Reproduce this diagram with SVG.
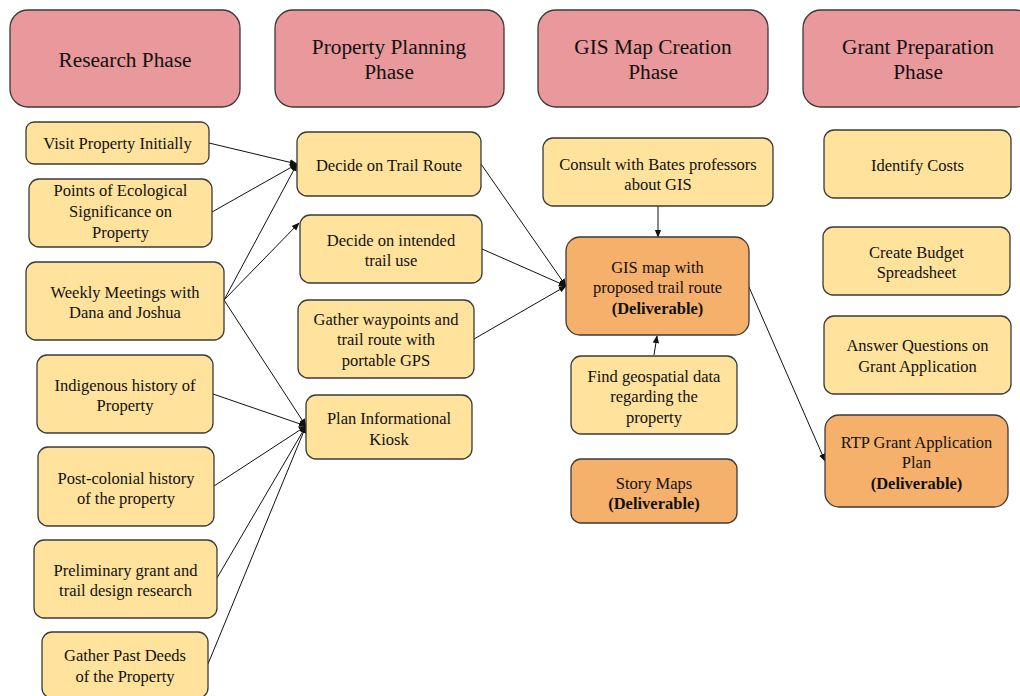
<svg xmlns="http://www.w3.org/2000/svg" width="1020" height="696" viewBox="0 0 1020 696">
<style>
.h{fill:#E9989B;stroke:#3a3a3a;stroke-width:1.3}
.y{fill:#FFE29C;stroke:#3a3a3a;stroke-width:1.3}
.o{fill:#F5B06C;stroke:#3a3a3a;stroke-width:1.3}
text{font-family:"Liberation Serif","Times New Roman",serif;fill:#111;text-anchor:middle}
.ht{font-size:21.3px}
.t{font-size:16.5px}
.b{font-weight:bold}
.c{stroke:#111;stroke-width:1;fill:none;marker-end:url(#a)}
</style>
<defs>
<marker id="a" viewBox="0 0 10 10" refX="9" refY="5" markerWidth="8" markerHeight="8" markerUnits="userSpaceOnUse" orient="auto">
<path d="M0,1 L10,5 L0,9 z" fill="#111"/>
</marker>
</defs>
<rect width="1020" height="696" fill="#fff"/>
<g id="connectors">
<line class="c" x1="209" y1="143" x2="297" y2="164"/>
<line class="c" x1="212" y1="212" x2="297" y2="164"/>
<line class="c" x1="224" y1="300" x2="297" y2="164"/>
<line class="c" x1="224" y1="300" x2="299" y2="223"/>
<line class="c" x1="224" y1="300" x2="306" y2="426"/>
<line class="c" x1="213" y1="394" x2="306" y2="426"/>
<line class="c" x1="214" y1="486" x2="306" y2="426"/>
<line class="c" x1="217" y1="578" x2="306" y2="426"/>
<line class="c" x1="208" y1="664" x2="306" y2="426"/>
<line class="c" x1="481" y1="164" x2="566" y2="286"/>
<line class="c" x1="482" y1="249" x2="566" y2="286"/>
<line class="c" x1="474" y1="339" x2="566" y2="286"/>
<line class="c" x1="658" y1="206" x2="658" y2="237"/>
<line class="c" x1="654" y1="355" x2="657" y2="336"/>
<line class="c" x1="749" y1="287" x2="825" y2="461"/>
</g>
<g id="h1"><rect class="h" x="10" y="10" width="230" height="97" rx="18"/><text class="ht" x="125" y="67">Research Phase</text></g>
<g id="h2"><rect class="h" x="275" y="10" width="229" height="97" rx="18"/><text class="ht" x="389" y="54">Property Planning</text><text class="ht" x="389" y="79">Phase</text></g>
<g id="h3"><rect class="h" x="538" y="10" width="230" height="97" rx="18"/><text class="ht" x="653" y="54">GIS Map Creation</text><text class="ht" x="653" y="79">Phase</text></g>
<g id="h4"><rect class="h" x="803" y="10" width="230" height="97" rx="18"/><text class="ht" x="918" y="54">Grant Preparation</text><text class="ht" x="918" y="79">Phase</text></g>

<g id="r1"><rect class="y" x="26" y="122" width="183" height="42" rx="8"/><text class="t" x="117.5" y="149">Visit Property Initially</text></g>
<g id="r2"><rect class="y" x="29" y="179" width="183" height="68" rx="10"/><text class="t" x="120.5" y="196">Points of Ecological</text><text class="t" x="120.5" y="217">Significance on</text><text class="t" x="120.5" y="238">Property</text></g>
<g id="r3"><rect class="y" x="26" y="262" width="198" height="78" rx="10"/><text class="t" x="125" y="298">Weekly Meetings with</text><text class="t" x="125" y="318">Dana and Joshua</text></g>
<g id="r4"><rect class="y" x="37" y="355" width="176" height="78" rx="10"/><text class="t" x="125" y="391">Indigenous history of</text><text class="t" x="125" y="411">Property</text></g>
<g id="r5"><rect class="y" x="38" y="447" width="176" height="79" rx="10"/><text class="t" x="126" y="484">Post-colonial history</text><text class="t" x="126" y="504">of the property</text></g>
<g id="r6"><rect class="y" x="34" y="540" width="183" height="78" rx="10"/><text class="t" x="125.5" y="576">Preliminary grant and</text><text class="t" x="125.5" y="596">trail design research</text></g>
<g id="r7"><rect class="y" x="42" y="632" width="166" height="66" rx="10"/><text class="t" x="125" y="661">Gather Past Deeds</text><text class="t" x="125" y="682">of the Property</text></g>

<g id="p1"><rect class="y" x="297" y="132" width="184" height="64" rx="10"/><text class="t" x="389" y="171">Decide on Trail Route</text></g>
<g id="p2"><rect class="y" x="300" y="215" width="182" height="68" rx="10"/><text class="t" x="391" y="246">Decide on intended</text><text class="t" x="391" y="266">trail use</text></g>
<g id="p3"><rect class="y" x="298" y="300" width="176" height="78" rx="10"/><text class="t" x="386" y="325">Gather waypoints and</text><text class="t" x="386" y="345">trail route with</text><text class="t" x="386" y="366">portable GPS</text></g>
<g id="p4"><rect class="y" x="306" y="395" width="166" height="64" rx="10"/><text class="t" x="389" y="424">Plan Informational</text><text class="t" x="389" y="445">Kiosk</text></g>

<g id="g1"><rect class="y" x="543" y="138" width="230" height="68" rx="10"/><text class="t" x="658" y="170">Consult with Bates professors</text><text class="t" x="658" y="190">about GIS</text></g>
<g id="g2"><rect class="o" x="566" y="237" width="183" height="98" rx="14"/><text class="t" x="657.5" y="273">GIS map with</text><text class="t" x="657.5" y="293">proposed trail route</text><text class="t b" x="657.5" y="314">(Deliverable)</text></g>
<g id="g3"><rect class="y" x="571" y="356" width="166" height="78" rx="10"/><text class="t" x="654" y="382">Find geospatial data</text><text class="t" x="654" y="402">regarding the</text><text class="t" x="654" y="423">property</text></g>
<g id="g4"><rect class="o" x="571" y="459" width="166" height="64" rx="10"/><text class="t" x="654" y="489">Story Maps</text><text class="t b" x="654" y="509">(Deliverable)</text></g>

<g id="q1"><rect class="y" x="824" y="130" width="187" height="68" rx="10"/><text class="t" x="917.5" y="171">Identify Costs</text></g>
<g id="q2"><rect class="y" x="823" y="227" width="187" height="68" rx="10"/><text class="t" x="916.5" y="258">Create Budget</text><text class="t" x="916.5" y="278">Spreadsheet</text></g>
<g id="q3"><rect class="y" x="824" y="316" width="187" height="78" rx="10"/><text class="t" x="917.5" y="351">Answer Questions on</text><text class="t" x="917.5" y="372">Grant Application</text></g>
<g id="q4"><rect class="o" x="825" y="415" width="183" height="92" rx="14"/><text class="t" x="916.5" y="448">RTP Grant Application</text><text class="t" x="916.5" y="468">Plan</text><text class="t b" x="916.5" y="489">(Deliverable)</text></g>
</svg>
